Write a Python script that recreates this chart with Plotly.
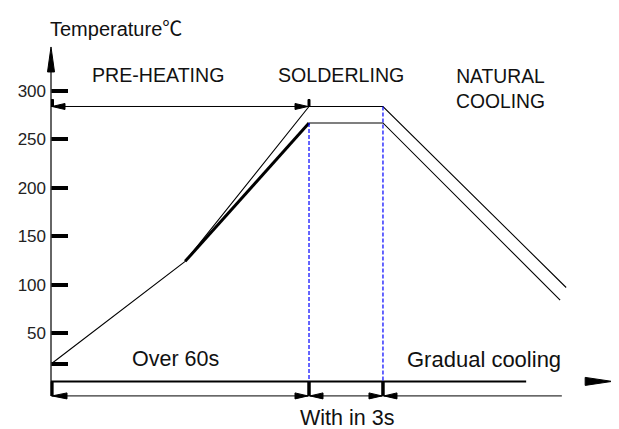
import plotly.graph_objects as go

# ---- data (time in arbitrary units, temperature in degC) ----
upper_time = [0, 31.2, 60, 77.2, 119.8]
upper_temp = [18, 124, 284, 284, 97]
thick_time = [31.2, 60]
thick_temp = [124, 267]
lower_time = [60, 77.2, 118.4]
lower_temp = [267, 267, 84]

phase_bounds = [0, 60, 77.2]          # start, end of preheat, end of soldering
cool_dim_end = 118.8
axis_x_end = 130.5
axis_y_end = 345.5
dim_level = -15

tick_vals = [18, 50, 100, 150, 200, 250, 300]
tick_text = ["", "50", "100", "150", "200", "250", "300"]

FONT = "Arial, Liberation Sans, sans-serif"

fig = go.Figure()
fig.add_trace(go.Scatter(x=upper_time, y=upper_temp, mode="lines",
                         line=dict(color="black", width=1.1), hoverinfo="skip"))
fig.add_trace(go.Scatter(x=thick_time, y=thick_temp, mode="lines",
                         line=dict(color="black", width=3), hoverinfo="skip"))
fig.add_trace(go.Scatter(x=lower_time, y=lower_temp, mode="lines",
                         line=dict(color="black", width=1.1), hoverinfo="skip"))

shapes = []
def line(x0, y0, x1, y1, w=1, color="black", dash=None, xref="x"):
    d = dict(type="line", x0=x0, y0=y0, x1=x1, y1=y1, xref=xref, yref="y",
             line=dict(color=color, width=w), layer="above")
    if dash:
        d["line"]["dash"] = dash
    shapes.append(d)

def head(x, y, path, color="black", xref="x"):
    shapes.append(dict(type="path", xref=xref, yref="y", xsizemode="pixel", ysizemode="pixel",
                       xanchor=x, yanchor=y, path=path, fillcolor=color,
                       line=dict(color=color, width=1), layer="above"))

# axes (y axis drawn on paper x=0 so it is not clipped)
line(0, dim_level, 0, axis_y_end - 20, w=1.5, color="#333", xref="paper")
line(0.002, 0, 0.002, dim_level, w=3, xref="paper")
line(0, 0, axis_x_end - 20, 0, w=2)
head(0, axis_y_end, "M 0 0 L -3.5 -25 L 3.5 -25 Z", xref="paper")
head(axis_x_end, 0, "M 0 0 L -27 -4 L -27 4 Z")

# dashed phase boundaries
line(phase_bounds[1], thick_temp[1], phase_bounds[1], 0, w=1.2, color="#0000ff", dash="4px,2px")
line(phase_bounds[2], upper_temp[3], phase_bounds[2], 0, w=1.2, color="#0000ff", dash="4px,2px")

# bottom dimension line
line(0, dim_level, cool_dim_end, dim_level, w=1)
for xb in phase_bounds[1:]:
    line(xb, 0, xb, dim_level, w=3.5)
head(0, dim_level, "M 1 0 L 16 3 L 16 -3 Z")
head(phase_bounds[1], dim_level, "M -1 0 L -14 3 L -14 -3 Z")
head(phase_bounds[1], dim_level, "M 1 0 L 14 3 L 14 -3 Z")
head(phase_bounds[2], dim_level, "M -1 0 L -14 3 L -14 -3 Z")
head(phase_bounds[2], dim_level, "M 1 0 L 14 3 L 14 -3 Z")

# top dimension line
line(0, upper_temp[2], phase_bounds[1], upper_temp[2], w=1)
head(0, upper_temp[2], "M 1 0 L 14 3 L 14 -3 Z")
head(phase_bounds[1], upper_temp[2], "M -1 0 L -14 3 L -14 -3 Z")
head(0, upper_temp[2], "M 0 0 L 0 7 L 2.5 7 L 2.5 0 Z")
head(phase_bounds[1], upper_temp[2], "M -1 0 L -1 7 L 1 7 L 1 0 Z")

annotations = [
    dict(x=-0.0053, y=1.035, ref="paper",
         text="Temperature<span style=\"font-family:'Noto Sans CJK SC'\">℃</span>",
         xanchor="left", size=20),
    dict(x=24.8, y=317, text="PRE-HEATING", size=19.6),
    dict(x=67.4, y=317, text="SOLDERLING", size=19.6),
    dict(x=104.5, y=302, text="NATURAL<br>COOLING", size=19.3),
    dict(x=28.9, y=23, text="Over 60s", size=21.5),
    dict(x=100.7, y=23, text="Gradual cooling", size=22),
    dict(x=0.524, y=-0.0203, ref="paper", text="With in 3s", size=21.5),
]
anns = []
for a in annotations:
    xr = "paper" if a.get("ref") == "paper" else "x"
    yr = "paper" if a.get("ref") == "paper" else "y"
    anns.append(dict(x=a["x"], y=a["y"], xref=xr, yref=yr, text=a["text"], showarrow=False,
                     xanchor=a.get("xanchor", "center"), yanchor="middle",
                     font=dict(family=FONT, size=a["size"], color="#111")))

# The page body has an 8px margin, so the figure is 8px smaller and margins shifted.
fig.update_layout(
    width=611, height=421,
    margin=dict(l=43, r=4, t=32, b=19, autoexpand=False),
    paper_bgcolor="white", plot_bgcolor="white",
    showlegend=False,
    shapes=shapes, annotations=anns,
    xaxis=dict(range=[0, 131.16], visible=False, fixedrange=True, automargin=False),
    yaxis=dict(range=[-29.55, 352.69], showgrid=False, zeroline=False, showline=False,
               automargin=False,
               tickvals=tick_vals, ticktext=tick_text, ticks="inside", ticklen=17,
               tickwidth=3.5, tickcolor="black", ticklabelstandoff=4,
               tickfont=dict(family=FONT, size=17, color="#222"), fixedrange=True),
)
fig.write_html("out.html")
